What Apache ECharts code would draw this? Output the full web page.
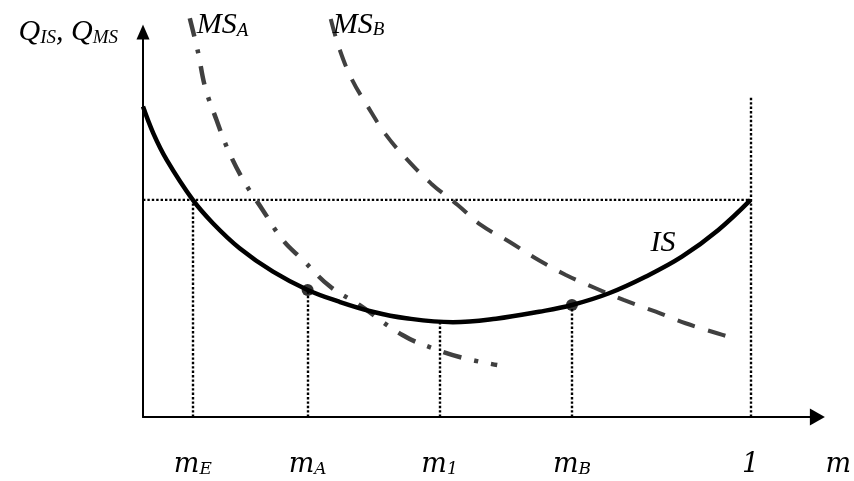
<!DOCTYPE html>
<html>
<head>
<meta charset="utf-8">
<script src="https://cdn.jsdelivr.net/npm/echarts@6/dist/echarts.min.js"></script>
<style>
  html, body { margin: 0; padding: 0; background: #fff; }
  #chart { width: 854px; height: 481px; }
</style>
</head>
<body>
<div id="chart"></div>
<script>
// marked m values on the horizontal axis
const tickVals = [0.082, 0.271, 0.488, 0.706, 1]
const tickMain = ['m', 'm', 'm', 'm', '1']
const tickSub = ['E', 'A', '1', 'B', '']
// height where each dotted drop line ends
const dropTops = [0.998, 0.584, 0.441, 0.515, 1.47]

// IS curve
const isX = [0, 0.017, 0.039, 0.082, 0.115, 0.159, 0.214, 0.271, 0.323, 0.378, 0.433, 0.51, 0.581, 0.652, 0.706, 0.767, 0.827, 0.887, 0.947, 1]
const isY = [1.427, 1.304, 1.182, 0.998, 0.891, 0.776, 0.668, 0.584, 0.53, 0.484, 0.454, 0.436, 0.452, 0.484, 0.515, 0.569, 0.645, 0.737, 0.86, 0.998]

// MS_A curve (dash-dot)
const msaX = [0.077, 0.091, 0.102, 0.12, 0.14, 0.165, 0.197, 0.23, 0.263, 0.307, 0.356, 0.427, 0.477, 0.529, 0.583]
const msaY = [1.833, 1.672, 1.519, 1.373, 1.228, 1.09, 0.952, 0.814, 0.722, 0.602, 0.515, 0.377, 0.316, 0.27, 0.239]

// MS_B curve (dashed)
const msbX = [0.309, 0.323, 0.343, 0.37, 0.4, 0.433, 0.474, 0.518, 0.556, 0.603, 0.646, 0.696, 0.745, 0.791, 0.844, 0.893, 0.945, 0.972]
const msbY = [1.83, 1.695, 1.557, 1.427, 1.297, 1.189, 1.074, 0.975, 0.883, 0.806, 0.73, 0.653, 0.592, 0.538, 0.484, 0.431, 0.385, 0.362]

// level of the horizontal guide
const guideLevel = 0.998
// indexes into tickVals of the marked points A and B
const dotTicks = [1, 3]
// where the "IS" label hangs on the curve
const isLabelAt = 0.887

const serif = "'Liberation Serif', 'Times New Roman', serif"
const mathSerif = "'DejaVu Serif', serif"
const dark = '#404040'
const dotted = { color: '#000', width: 2.4, type: [2.4, 2], opacity: 1 }

const drops = tickVals.map((x, i) => ({ coords: [[x, 0], [x, dropTops[i]]] }))

const curveLabelRich = {
  b: { fontFamily: serif, fontStyle: 'italic', fontSize: 30, lineHeight: 30, color: '#000' },
  s: { fontFamily: serif, fontStyle: 'italic', fontSize: 19, lineHeight: 22, verticalAlign: 'bottom', color: '#000' }
}

const toPairs = (xs, ys) => xs.map((x, i) => [x, ys[i]])

const withLabel = (pairs, idx, text, pos) => pairs.map((p, i) => i === idx ? {
  value: p,
  label: { show: true, formatter: text, position: pos, align: 'left', verticalAlign: 'middle', rich: curveLabelRich }
} : p)

const chart = echarts.init(document.getElementById('chart'))

const option = {
  animation: false,
  grid: { left: 143, right: 35, top: 32, bottom: 64 },
  xAxis: {
    type: 'value',
    min: 0,
    max: 1.11,
    splitLine: { show: false },
    axisTick: { show: false },
    axisLine: {
      lineStyle: { color: '#000', width: 2 },
      symbol: ['none', 'triangle'],
      symbolSize: [17, 15]
    },
    axisLabel: {
      customValues: tickVals,
      margin: 34,
      formatter: (v) => {
        const i = tickVals.findIndex((t) => Math.abs(t - v) < 1e-6)
        if (i < 0) return ''
        return '{b|' + tickMain[i] + '}' + (tickSub[i] ? '{s|' + tickSub[i] + '}' : '')
      },
      rich: {
        b: { fontFamily: mathSerif, fontStyle: 'italic', fontSize: 27, lineHeight: 27, color: '#000' },
        s: { fontFamily: mathSerif, fontStyle: 'italic', fontSize: 17, lineHeight: 8, verticalAlign: 'bottom', color: '#000' }
      }
    },
    name: 'm',
    nameLocation: 'end',
    nameGap: 8,
    nameTextStyle: {
      fontFamily: mathSerif, fontStyle: 'italic', fontSize: 27, lineHeight: 27, color: '#000',
      verticalAlign: 'top', padding: [34, 0, 0, 0]
    }
  },
  yAxis: {
    type: 'value',
    min: 0,
    max: 1.77,
    splitLine: { show: false },
    axisTick: { show: false },
    axisLabel: { show: false },
    axisLine: {
      lineStyle: { color: '#000', width: 2 },
      symbol: ['none', 'triangle'],
      symbolSize: [13, 15]
    },
    name: '{b|Q}{s|IS}{b|, Q}{s|MS}',
    nameLocation: 'end',
    nameGap: 0,
    nameTextStyle: {
      align: 'right',
      verticalAlign: 'middle',
      padding: [0, 25, 0, 0],
      rich: curveLabelRich
    }
  },
  series: [
    {
      // horizontal dotted guide
      type: 'line',
      data: [[0, guideLevel], [1, guideLevel]],
      symbol: 'none',
      silent: true,
      lineStyle: dotted,
      z: 1
    },
    {
      // vertical dotted drops
      type: 'lines',
      coordinateSystem: 'cartesian2d',
      data: drops,
      silent: true,
      lineStyle: dotted,
      z: 1
    },
    {
      name: 'MS_A',
      type: 'line',
      data: withLabel(toPairs(msaX, msaY), 0, '{b|MS}{s|A}', [7, 7]),
      smooth: 0.4,
      clip: false,
      showSymbol: true,
      symbol: 'circle',
      symbolSize: 0,
      lineStyle: { color: dark, width: 4.5, type: [19, 13, 4, 13] },
      z: 2
    },
    {
      name: 'MS_B',
      type: 'line',
      data: withLabel(toPairs(msbX, msbY), 0, '{b|MS}{s|B}', [2, 6]),
      smooth: 0.4,
      clip: false,
      showSymbol: true,
      symbol: 'circle',
      symbolSize: 0,
      lineStyle: { color: dark, width: 4, type: [18, 14] },
      z: 2
    },
    {
      name: 'IS',
      type: 'line',
      data: toPairs(isX, isY).map((p) => Math.abs(p[0] - isLabelAt) < 1e-6 ? {
        value: p,
        label: {
          show: true, formatter: 'IS', position: [-19, -14], align: 'center', verticalAlign: 'middle',
          fontFamily: serif, fontStyle: 'italic', fontSize: 30, color: '#000'
        }
      } : p),
      smooth: 0.4,
      clip: false,
      showSymbol: true,
      symbol: 'circle',
      symbolSize: 0,
      lineStyle: { color: '#000', width: 4.5 },
      z: 3
    },
    {
      // marked points A and B on IS
      type: 'scatter',
      data: dotTicks.map((i) => [tickVals[i], dropTops[i]]),
      symbolSize: 12,
      itemStyle: { color: '#000' },
      z: 4
    }
  ]
}

chart.setOption(option)
</script>
</body>
</html>
